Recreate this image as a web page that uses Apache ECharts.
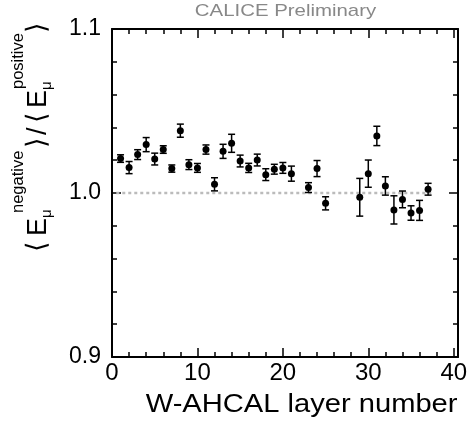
<!DOCTYPE html>
<html><head><meta charset="utf-8">
<script src="https://cdn.jsdelivr.net/npm/echarts@6/dist/echarts.min.js"></script>
<style>html,body{margin:0;padding:0;background:#fff}#c{width:473px;height:428px}</style>
</head><body><div id="c"></div>
<script>
const layers = [1,2,3,4,5,6,7,8,9,10,11,12,13,14,15,16,17,18,19,20,21,23,24,25,29,30,31,32,33,34,35,36,37];
const ratio = [1.0210,1.0155,1.0234,1.0295,1.0207,1.0265,1.0149,1.0380,1.0173,1.0153,1.0265,1.0053,1.0254,1.0303,1.0195,1.0153,1.0201,1.0112,1.0145,1.0153,1.0118,1.0033,1.0149,0.9937,0.9974,1.0118,1.0348,1.0043,0.9897,0.9961,0.9878,0.9894,1.0023];
const ratioErr = [0.0023,0.0037,0.0030,0.0043,0.0036,0.0023,0.0022,0.0040,0.0030,0.0027,0.0028,0.0040,0.0043,0.0055,0.0036,0.0028,0.0036,0.0036,0.0030,0.0033,0.0046,0.0030,0.0049,0.0040,0.0115,0.0083,0.0059,0.0056,0.0086,0.0051,0.0044,0.0061,0.0036];
const refLineX = [0.5, 37.5];
const refLineY = 1.0;
const titleText = 'CALICE Preliminary';
const xTitle = 'W-AHCAL layer number';

const chart = echarts.init(document.getElementById('c'), null, {renderer: 'canvas'});
const FONT = 'Liberation Sans, Arial, sans-serif';
const black = '#000';

function xAx(pos, major, labels) {
  return {
    type: 'value', position: pos, min: 0, max: 40.5, interval: major ? 10 : 2,
    axisLine: {show: major, onZero: false, lineStyle: {color: black, width: 2}},
    axisTick: {show: true, inside: true, length: major ? 9 : 5, lineStyle: {color: black, width: 1.5}},
    axisLabel: {show: labels, color: black, fontSize: 24, fontFamily: FONT, margin: 4, showMaxLabel: false},
    splitLine: {show: false}
  };
}
function yAx(pos, labels) {
  return {
    type: 'value', position: pos, min: 0.9, max: 1.1, interval: 0.1,
    axisLine: {show: true, onZero: false, lineStyle: {color: black, width: 2}},
    axisTick: {show: true, inside: true, length: 9, lineStyle: {color: black, width: 1.5}},
    minorTick: {show: true, splitNumber: 5, length: 5, lineStyle: {color: black, width: 1.5}},
    axisLabel: {show: labels, color: black, fontSize: 23, fontFamily: FONT, margin: 11,
      formatter: v => v.toFixed(1)},
    splitLine: {show: false}
  };
}

// y title pieces: [text, offset along text, kind, font]
const MAINF = 27, SUPF = 16.5, SUBF = 15;
const yTitlePieces = [
  ['\u27E8', 3, 'main', 'DejaVu Sans'],
  ['E', 19, 'main', FONT],
  ['\u03BC', 37, 'sub', FONT],
  ['negative', 42, 'sup', FONT],
  ['\u27E9', 107, 'main', 'DejaVu Sans'],
  ['/', 120, 'main', FONT],
  ['\u27E8', 132, 'main', 'DejaVu Sans'],
  ['E', 147, 'main', FONT],
  ['\u03BC', 165, 'sub', FONT],
  ['positive', 166, 'sup', FONT],
  ['\u27E9', 222, 'main', 'DejaVu Sans']
];
function pieceStyle(p) {
  const kind = p[2];
  const fs = kind === 'main' ? MAINF : (kind === 'sup' ? SUPF : SUBF);
  const base = kind === 'main' ? 0 : (kind === 'sup' ? -23 : 5);
  return {type: 'text', style: {text: p[0], x: p[1], y: base - 0.347 * fs, fontSize: fs,
    fontFamily: p[3], fill: black, textAlign: 'left', textVerticalAlign: 'middle'}};
}

chart.setOption({
  animation: false,
  backgroundColor: '#fff',
  grid: {left: 112, right: 15, top: 29, bottom: 71},
  xAxis: [xAx('bottom', true, true), xAx('bottom', false, false), xAx('top', true, false), xAx('top', false, false)],
  yAxis: [yAx('left', true), yAx('right', false)],
  graphic: [
    {type: 'text', x: 285.5, y: 11, scaleX: 1.2, style: {text: titleText, x: 0, y: 0, fontSize: 17, fontFamily: FONT,
      fill: '#888', textAlign: 'center', textVerticalAlign: 'middle'}},
    {type: 'text', x: 457.5, y: 405, scaleX: 1.12, style: {text: xTitle, x: 0, y: 0, fontSize: 26, fontFamily: FONT,
      fill: black, textAlign: 'right', textVerticalAlign: 'middle'}},
    {type: 'group', x: 47.5, y: 255, rotation: Math.PI / 2, children: yTitlePieces.map(pieceStyle)}
  ],
  series: [
    {type: 'line', xAxisIndex: 0, yAxisIndex: 0, data: refLineX.map(x => [x, refLineY]), symbol: 'none', silent: true, z: 1,
      lineStyle: {color: '#bbbbbb', width: 2.5, type: [3, 3]}},
    {type: 'custom', xAxisIndex: 0, yAxisIndex: 0, z: 3, silent: true,
      data: layers.map((x, i) => [x, ratio[i], ratioErr[i]]),
      encode: {x: 0, y: 1},
      renderItem: function (params, api) {
        const x = api.value(0), y = api.value(1), e = api.value(2);
        const lo = api.coord([x, y - e]), hi = api.coord([x, y + e]);
        const w = 3.5;
        const st = {stroke: black, lineWidth: 1.5};
        return {type: 'group', children: [
          {type: 'line', shape: {x1: lo[0], y1: lo[1], x2: hi[0], y2: hi[1]}, style: st},
          {type: 'line', shape: {x1: lo[0] - w, y1: lo[1], x2: lo[0] + w, y2: lo[1]}, style: st},
          {type: 'line', shape: {x1: hi[0] - w, y1: hi[1], x2: hi[0] + w, y2: hi[1]}, style: st}
        ]};
      }},
    {type: 'scatter', xAxisIndex: 0, yAxisIndex: 0, z: 4, symbol: 'circle', symbolSize: 7, silent: true,
      itemStyle: {color: black, opacity: 1},
      data: layers.map((x, i) => [x, ratio[i]])}
  ]
});
</script></body></html>
